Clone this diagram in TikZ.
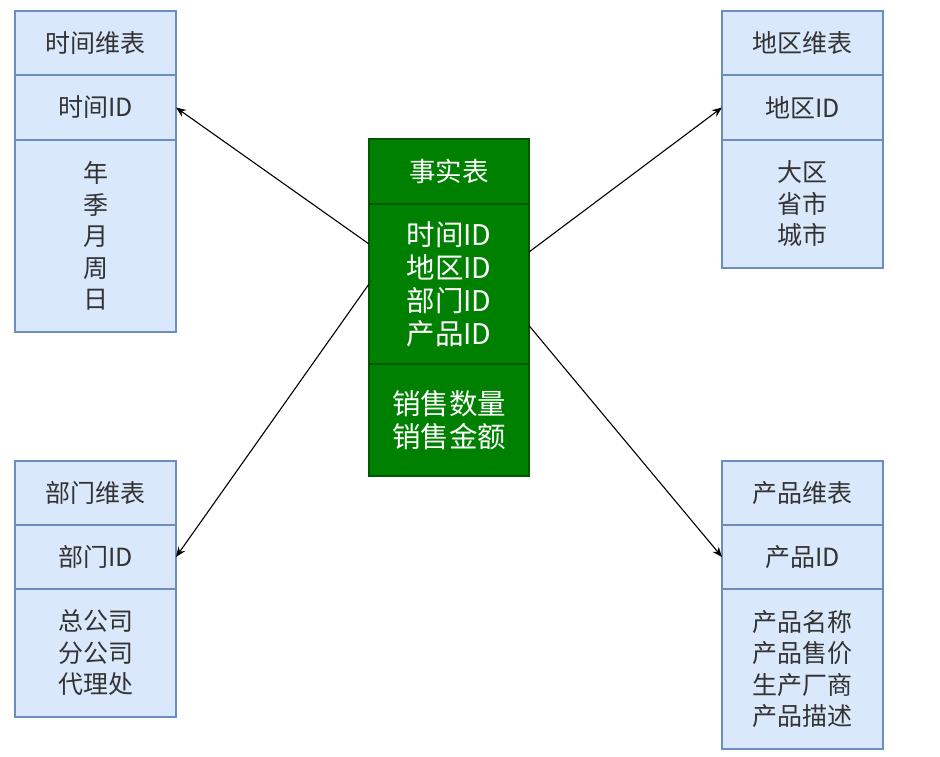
\documentclass[tikz,border=0pt]{standalone}
\usepackage{fontspec}
\setmainfont{Noto Sans CJK SC}
\usepackage{xcolor}
\usetikzlibrary{positioning,calc,arrows.meta}
\definecolor{dimfill}{HTML}{DAE8FC}
\definecolor{dimline}{HTML}{6C8EBF}
\definecolor{factfill}{HTML}{008000}
\definecolor{factline}{HTML}{005700}
\definecolor{dimtext}{HTML}{333333}
\tikzset{
  cell/.style={rectangle,draw,line width=1.3pt,outer sep=0pt,inner sep=0pt,align=center},
  dimcell/.style={cell,draw=dimline,fill=dimfill,text=dimtext,minimum width=161pt,
    font=\fontsize{25}{31.5}\selectfont},
  factcell/.style={cell,draw=factline,fill=factfill,text=white,minimum width=160pt},
  link/.style={-{Stealth[length=10pt,width=8pt]},line width=1.1pt}
}
\begin{document}
\begin{tikzpicture}[x=1pt,y=-1pt]
    \useasboundingbox (0,0) rectangle (940,757);
    % fact table
    \node[factcell,minimum height=65pt,font=\fontsize{26.5}{31}\selectfont] (fh) at (449,171.5) {事实表};
    \node[factcell,minimum height=160pt,below=0pt of fh,font=\fontsize{28.5}{33}\selectfont] (fk) {时间ID\\地区ID\\部门ID\\产品ID};
    \node[factcell,minimum height=112pt,below=0pt of fk,font=\fontsize{28.5}{33}\selectfont] (fm) {销售数量\\销售金额};
    % time dimension
    \node[dimcell,minimum height=64pt] (th) at (95.5,43) {时间维表};
    \node[dimcell,minimum height=65pt,below=0pt of th] (tid) {时间ID};
    \node[dimcell,minimum height=192pt,below=0pt of tid] (tb) {年\\季\\月\\周\\日};
    % region dimension
    \node[dimcell,minimum height=64pt] (rh) at (802.5,43) {地区维表};
    \node[dimcell,minimum height=65pt,below=0pt of rh] (rid) {地区ID};
    \node[dimcell,minimum height=128pt,below=0pt of rid] (rb) {大区\\省市\\城市};
    % department dimension
    \node[dimcell,minimum height=64pt] (dh) at (95.5,493) {部门维表};
    \node[dimcell,minimum height=64pt,below=0pt of dh] (did) {部门ID};
    \node[dimcell,minimum height=128pt,below=0pt of did] (db) {总公司\\分公司\\代理处};
    % product dimension
    \node[dimcell,minimum height=64pt] (ph) at (802.5,493) {产品维表};
    \node[dimcell,minimum height=64pt,below=0pt of ph] (pid) {产品ID};
    \node[dimcell,minimum height=160pt,below=0pt of pid] (pb) {产品名称\\产品售价\\生产厂商\\产品描述};
    % links
    \coordinate (ft) at ($(fk.north west)!0.25!(fk.south west)$);
    \coordinate (fd) at (fk.west);
    \coordinate (fr) at ($(fk.north east)!0.3!(fk.south east)$);
    \coordinate (fp) at ($(fk.north east)!0.76!(fk.south east)$);
    \draw[link] (ft) -- (tid.east);
    \draw[link] (fd) -- (did.east);
    \draw[link] (fr) -- (rid.west);
    \draw[link] (fp) -- (pid.west);
\end{tikzpicture}
\end{document}
